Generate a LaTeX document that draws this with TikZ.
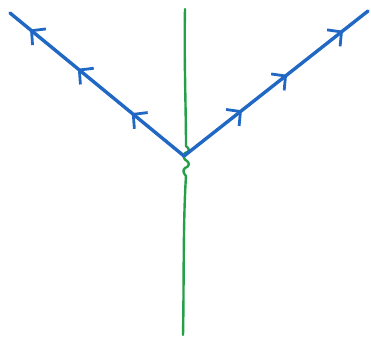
\documentclass[tikz,border=0pt]{standalone}
\usetikzlibrary{arrows.meta,decorations.markings}
\definecolor{pblue}{RGB}{33,104,196}
\definecolor{pgreen}{RGB}{38,160,72}
\tikzset{
  bline/.style={pblue,line width=3.4pt,line cap=round},
  barb/.style={pblue,line width=2.8pt,line cap=round},
  gline/.style={pgreen,line width=2.4pt,line cap=round,line join=round}
}
\newcommand{\mybarb}{\arrow[barb]{Straight Barb[length=10pt,width=21pt]}}
\begin{document}
\begin{tikzpicture}[x=1pt,y=-1pt]
\useasboundingbox (0,0) rectangle (371,341);
\coordinate (v) at (184,156);
\coordinate (l) at (10,13);
\coordinate (r) at (368,11);
\coordinate (gt) at (185,9);
\coordinate (gb) at (183,335);
% green line with wiggle
\draw[gline] (gt) .. controls (184,60) and (186,110) .. (186,146)
  .. controls (190,149) and (190,152) .. (185,153)
  .. controls (182,155) and (184,160) .. (187,161)
  .. controls (190,163) and (189,167) .. (185,168)
  .. controls (182,170) and (184,174) .. (186,176)
  .. controls (183,220) and (184,290) .. (gb);
% blue lines
\draw[bline] (v) -- (l);
\draw[bline] (v) -- (r);
\path[postaction={decorate,decoration={markings,
   mark=at position 0.30 with {\mybarb},
   mark=at position 0.61 with {\mybarb},
   mark=at position 0.885 with {\mybarb}}}] (v) -- (l);
\path[postaction={decorate,decoration={markings,
   mark=at position 0.315 with {\mybarb},
   mark=at position 0.56 with {\mybarb},
   mark=at position 0.864 with {\mybarb}}}] (v) -- (r);
\end{tikzpicture}
\end{document}
